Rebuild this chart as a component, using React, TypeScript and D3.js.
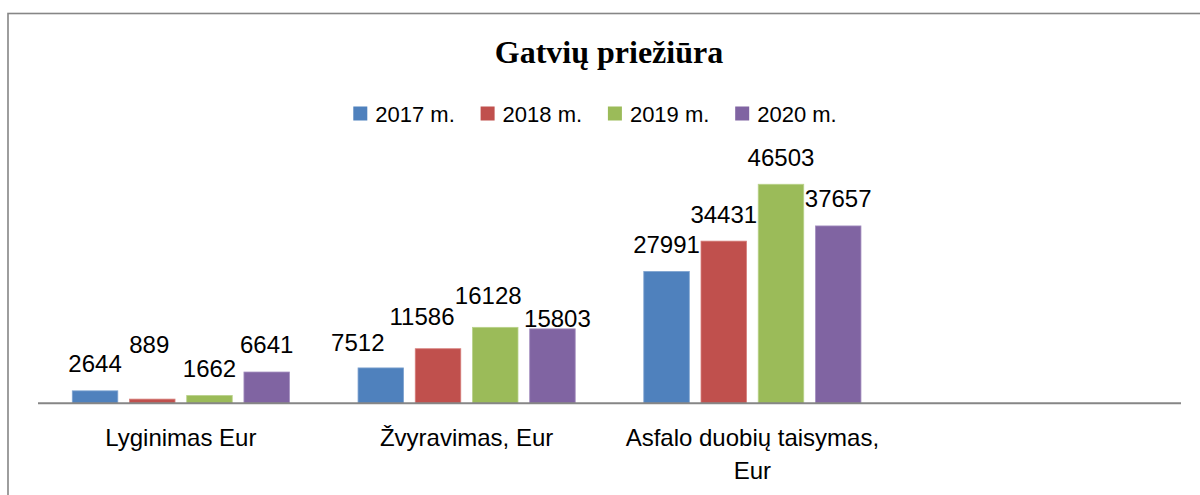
import React, { useEffect, useRef } from "react";
import * as d3 from "d3";

const title = "Gatvių priežiūra";
const categories = ["Lyginimas Eur", "Žvyravimas, Eur", "Asfalo duobių taisymas, Eur", ""];
const seriesNames = ["2017 m.", "2018 m.", "2019 m.", "2020 m."];
const values2017 = [2644, 7512, 27991, null];
const values2018 = [889, 11586, 34431, null];
const values2019 = [1662, 16128, 46503, null];
const values2020 = [6641, 15803, 37657, null];
const seriesValues = [values2017, values2018, values2019, values2020];
const yDomainMax = 50000;

const colors = ["#4F81BD", "#C0504D", "#9BBB59", "#8064A2"];
const edgeColors = ["#7FA3D0", "#D67F7C", "#B9D28A", "#A48FC0"];

// manual label adjustments (as in the original chart layout): key "series-category"
const labelNudge: Record<string, [number, number]> = {
  "1-0": [-3, -28],
  "0-1": [-23, 2],
  "1-1": [-16, -5],
  "2-1": [-7, -5],
  "3-1": [5, 17],
};

const W = 1200;
const H = 495;
const axisY = 403.3;
const axisX0 = 38;
const axisX1 = 1181;
const labelFont = "'Liberation Sans', Arial, sans-serif";

export default function App() {
  const ref = useRef<SVGSVGElement | null>(null);

  useEffect(() => {
    const svg = d3.select(ref.current);
    svg.selectAll("*").remove();

    // frame
    svg
      .append("rect")
      .attr("x", 8)
      .attr("y", 13.5)
      .attr("width", 1220)
      .attr("height", 520)
      .attr("fill", "#fff")
      .attr("stroke", "#868686")
      .attr("stroke-width", 1.6);

    // title
    svg
      .append("text")
      .attr("x", 609)
      .attr("y", 63)
      .attr("text-anchor", "middle")
      .attr("font-family", "'Liberation Serif', 'Times New Roman', serif")
      .attr("font-weight", "bold")
      .attr("font-size", 32)
      .attr("fill", "#000")
      .text(title);

    // legend
    const legendX0 = 353.3;
    const legendStride = 127.3;
    const lg = svg.append("g");
    seriesNames.forEach((name, i) => {
      const gx = legendX0 + i * legendStride;
      lg.append("rect")
        .attr("x", gx)
        .attr("y", 106.5)
        .attr("width", 14)
        .attr("height", 14)
        .attr("fill", colors[i]);
      lg.append("text")
        .attr("x", gx + 22)
        .attr("y", 121.7)
        .attr("font-family", labelFont)
        .attr("font-size", 22)
        .attr("fill", "#000")
        .text(name);
    });

    const x0 = d3
      .scaleBand<string>()
      .domain(categories.map((c, i) => String(i)))
      .range([axisX0, axisX1])
      .paddingInner(0.24)
      .paddingOuter(0.12);
    const x1 = d3
      .scaleBand<string>()
      .domain(seriesNames)
      .range([0, x0.bandwidth()])
      .paddingInner(0.2045);
    const y = d3.scaleLinear().domain([0, yDomainMax]).range([axisY, axisY - 235.5]);

    // bars
    const bars = svg.append("g");
    categories.forEach((cat, ci) => {
      seriesNames.forEach((s, si) => {
        const v = seriesValues[si][ci];
        if (v == null) return;
        const bx = (x0(String(ci)) as number) + (x1(s) as number);
        bars
          .append("rect")
          .attr("x", bx)
          .attr("y", y(v))
          .attr("width", x1.bandwidth())
          .attr("height", axisY - y(v))
          .attr("fill", colors[si])
          .attr("stroke", edgeColors[si])
          .attr("stroke-width", 0.8);
      });
    });

    // axis line
    svg
      .append("line")
      .attr("x1", axisX0)
      .attr("x2", axisX1)
      .attr("y1", axisY)
      .attr("y2", axisY)
      .attr("stroke", "#868686")
      .attr("stroke-width", 2);

    // data labels
    const labels = svg.append("g");
    categories.forEach((cat, ci) => {
      seriesNames.forEach((s, si) => {
        const v = seriesValues[si][ci];
        if (v == null) return;
        const cx = (x0(String(ci)) as number) + (x1(s) as number) + x1.bandwidth() / 2;
        const nudge = labelNudge[`${si}-${ci}`] || [0, 0];
        labels
          .append("text")
          .attr("x", cx + nudge[0])
          .attr("y", y(v) - 18.6 + nudge[1])
          .attr("text-anchor", "middle")
          .attr("font-family", labelFont)
          .attr("font-size", 24)
          .attr("fill", "#000")
          .text(String(v));
      });
    });

    // category labels with wrapping
    const cg = svg.append("g");
    const maxW = x0.step() * 0.95;
    categories.forEach((cat, ci) => {
      if (!cat) return;
      const cx = (x0(String(ci)) as number) + x0.bandwidth() / 2;
      const t = cg
        .append("text")
        .attr("x", cx)
        .attr("y", 446)
        .attr("text-anchor", "middle")
        .attr("font-family", labelFont)
        .attr("font-size", 24)
        .attr("fill", "#000");
      const words = cat.split(" ");
      let line: string[] = [];
      let lineNo = 0;
      let tspan = t.append("tspan").attr("x", cx).attr("dy", 0);
      words.forEach((w) => {
        line.push(w);
        tspan.text(line.join(" "));
        const node = tspan.node() as SVGTSpanElement;
        if (node.getComputedTextLength() > maxW && line.length > 1) {
          line.pop();
          tspan.text(line.join(" "));
          line = [w];
          lineNo++;
          tspan = t.append("tspan").attr("x", cx).attr("dy", 33).text(w);
        }
      });
    });
  }, []);

  return (
    <svg
      ref={ref}
      width={W}
      height={H}
      style={{ position: "absolute", left: 0, top: 0, display: "block", background: "#fff" }}
    />
  );
}
